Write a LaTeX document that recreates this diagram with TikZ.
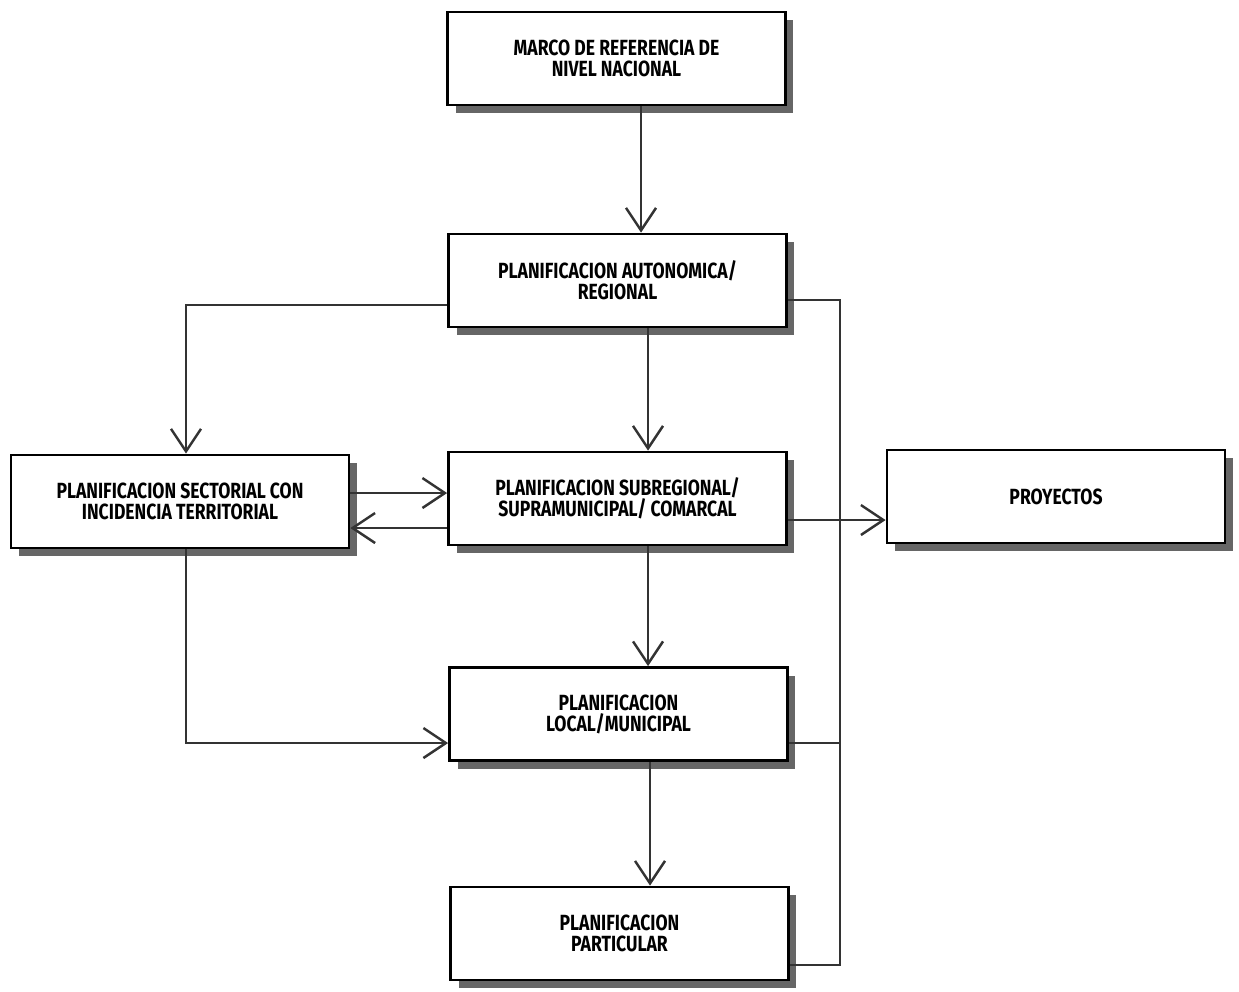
\documentclass[tikz,border=0pt]{standalone}
\usepackage{fontspec}
\setmainfont{Fira Sans}[FakeStretch=0.8]
\usetikzlibrary{arrows.meta,shadows}
\begin{document}
\begin{tikzpicture}[x=0.02cm,y=-0.02cm,
  box/.style={draw, line width=1.6pt, fill=white, align=center,
    font=\bfseries\fontsize{12.5}{12}\selectfont, inner sep=0pt,
    minimum width=6.76cm, minimum height=1.86cm,
    drop shadow={shadow xshift=0.16cm, shadow yshift=-0.16cm, fill=black!60, opacity=1}},
  conn/.style={line width=1.2pt, black!80, -{Straight Barb[length=4.5mm,width=6mm,line width=1.4pt]}},
  link/.style={line width=1.2pt, black!80}]
\useasboundingbox (0,0) rectangle (1239,991);
\node[box] (marco) at (616.5,58.5) {MARCO DE REFERENCIA DE\\NIVEL NACIONAL};
\node[box] (auto) at (617.5,280.5) {PLANIFICACION AUTONOMICA/\\REGIONAL};
\node[box] (sect) at (180,501.5) {PLANIFICACION SECTORIAL CON\\INCIDENCIA TERRITORIAL};
\node[box] (sub) at (617.5,498.5) {PLANIFICACION SUBREGIONAL/\\SUPRAMUNICIPAL/ COMARCAL};
\node[box] (proy) at (1056,496.5) {PROYECTOS};
\node[box] (local) at (618.5,714) {PLANIFICACION\\LOCAL/MUNICIPAL};
\node[box] (part) at (619.5,933.5) {PLANIFICACION\\PARTICULAR};
\coordinate (rtop) at (840,300);
\coordinate (rbot) at (840,965);
\coordinate (sdn) at (186,743);
\coordinate (lft) at (186,305);
\draw[conn] (marco.south -| 641,0) -- (auto.north -| 641,0);
\draw[conn] (auto.west |- lft) -- (lft) -- (sect.north -| lft);
\draw[conn] (auto.south -| 648,0) -- (sub.north -| 648,0);
\draw[conn] (sect.east |- 0,493) -- (sub.west |- 0,493);
\draw[conn] (sub.west |- 0,528) -- (sect.east |- 0,528);
\draw[conn] (sub.south -| 648,0) -- (local.north -| 648,0);
\draw[conn] (sect.south -| sdn) -- (sdn) -- (local.west |- sdn);
\draw[conn] (local.south -| 650,0) -- (part.north -| 650,0);
\draw[link] (auto.east |- rtop) -- (rtop) -- (rbot) -- (part.east |- rbot);
\draw[link] (local.east |- sdn) -- (rtop |- sdn);
\draw[conn] (sub.east |- 0,520) -- (proy.west |- 0,520);
\end{tikzpicture}
\end{document}
